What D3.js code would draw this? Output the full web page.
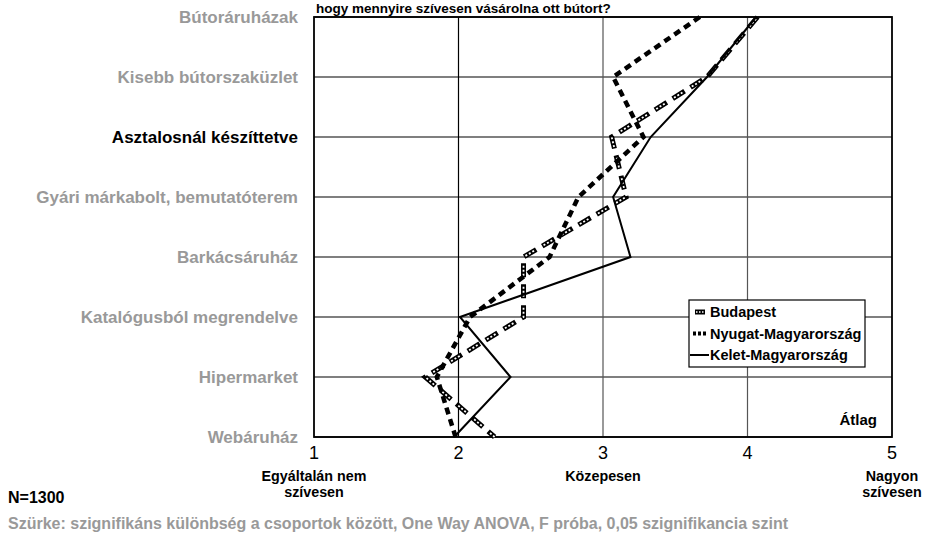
<!DOCTYPE html>
<html>
<head>
<meta charset="utf-8">
<script src="https://cdn.jsdelivr.net/npm/d3@7"></script>
<style>
  body { margin: 0; background: #fff; }
  svg { font-family: "Liberation Sans", Arial, sans-serif; }
</style>
</head>
<body>
<svg id="chart" width="930" height="538"></svg>
<script>
// categories, top to bottom
const categories = ['Bútoráruházak', 'Kisebb bútorszaküzlet', 'Asztalosnál készíttetve',
  'Gyári márkabolt, bemutatóterem', 'Barkácsáruház', 'Katalógusból megrendelve',
  'Hipermarket', 'Webáruház']
// gray = significant difference
const significant = [true, true, false, true, true, true, true, true]

const budapest = [4.07, 3.72, 3.06, 3.16, 2.45, 2.45, 1.77, 2.25]
const nyugat = [3.67, 3.07, 3.28, 2.83, 2.63, 2.08, 1.85, 1.98]
const kelet = [4.06, 3.72, 3.33, 3.07, 3.19, 2.01, 2.36, 1.97]

const xTicks = [1, 2, 3, 4, 5]
const xSubLabels = [
  { v: 1, lines: ['Egyáltalán nem', 'szívesen'] },
  { v: 3, lines: ['Közepesen'] },
  { v: 5, lines: ['Nagyon', 'szívesen'] }
]

let svg = d3.select('#chart')

let x = d3.scaleLinear([1, 5], [314, 892])
let y = d3.scalePoint(categories, [17, 437])

// grid
svg.append('g').selectAll('line').data(categories).join('line')
  .attr('x1', x(1)).attr('x2', x(5))
  .attr('y1', d => y(d)).attr('y2', d => y(d))
  .attr('stroke', '#000').attr('stroke-width', 1.2)
svg.append('g').selectAll('line').data([2, 3, 4]).join('line')
  .attr('x1', d => x(d)).attr('x2', d => x(d))
  .attr('y1', y(categories[0])).attr('y2', y(categories[7]))
  .attr('stroke', d => d == 2 ? '#000' : '#555').attr('stroke-width', 1.2)

// frame
svg.append('rect')
  .attr('x', x(1)).attr('y', y(categories[0]))
  .attr('width', x(5) - x(1)).attr('height', y(categories[7]) - y(categories[0]))
  .attr('fill', 'none').attr('stroke', '#000').attr('stroke-width', 1.8)

// y labels
svg.append('g').selectAll('text').data(categories).join('text')
  .attr('x', 298).attr('y', d => y(d)).attr('dy', '0.35em')
  .attr('text-anchor', 'end').attr('font-size', 17).attr('font-weight', 'bold')
  .attr('fill', (d, i) => significant[i] ? '#999' : '#000')
  .text(d => d)

// x ticks
svg.append('g').selectAll('text').data(xTicks).join('text')
  .attr('x', d => x(d)).attr('y', 459)
  .attr('text-anchor', 'middle').attr('font-size', 18)
  .text(d => d)

xSubLabels.forEach(s => {
  s.lines.forEach((l, i) => {
    svg.append('text')
      .attr('x', x(s.v)).attr('y', 481 + i * 16)
      .attr('text-anchor', 'middle').attr('font-size', 14.3).attr('font-weight', 'bold')
      .text(l)
  })
})

// lines
let line = d3.line().x(d => x(d[0])).y(d => y(d[1]))
let pts = arr => arr.map((v, i) => [v, categories[i]])

function drawBudapest(g, data) {
  g.append('path').datum(data).attr('d', line).attr('fill', 'none')
    .attr('stroke', '#000').attr('stroke-width', 5).attr('stroke-dasharray', '14,7')
  g.append('path').datum(data).attr('d', line).attr('fill', 'none')
    .attr('stroke', '#fff').attr('stroke-width', 1.8).attr('stroke-dasharray', '0,2.5,2,2,2,2,2,8.5')
}

drawBudapest(svg, pts(budapest))
svg.append('path').datum(pts(nyugat)).attr('d', line).attr('fill', 'none')
  .attr('stroke', '#000').attr('stroke-width', 4.5).attr('stroke-dasharray', '7,5')
svg.append('path').datum(pts(kelet)).attr('d', line).attr('fill', 'none')
  .attr('stroke', '#000').attr('stroke-width', 2)

// legend
let legend = svg.append('g')
legend.append('rect').attr('x', 689).attr('y', 300).attr('width', 176).attr('height', 67)
  .attr('fill', '#fff').attr('stroke', '#000').attr('stroke-width', 1.2)
let names = ['Budapest', 'Nyugat-Magyarország', 'Kelet-Magyarország']
names.forEach((n, i) => {
  let yy = 312 + i * 21.5
  if (i == 0) {
    legend.append('line').attr('x1', 695).attr('x2', 705).attr('y1', yy).attr('y2', yy)
      .attr('stroke', '#000').attr('stroke-width', 5)
    legend.append('line').attr('x1', 696).attr('x2', 704).attr('y1', yy).attr('y2', yy)
      .attr('stroke', '#fff').attr('stroke-width', 1.5).attr('stroke-dasharray', '1.5,1.5')
  } else if (i == 1) {
    legend.append('line').attr('x1', 693).attr('x2', 708).attr('y1', yy).attr('y2', yy)
      .attr('stroke', '#000').attr('stroke-width', 4).attr('stroke-dasharray', '3,2')
  } else {
    legend.append('line').attr('x1', 690).attr('x2', 709).attr('y1', yy).attr('y2', yy)
      .attr('stroke', '#000').attr('stroke-width', 2)
  }
  legend.append('text').attr('x', 710).attr('y', yy).attr('dy', '0.35em')
    .attr('font-size', 14.5).attr('font-weight', 'bold').text(n)
})

svg.append('text').attr('x', 877).attr('y', 425).attr('text-anchor', 'end')
  .attr('font-size', 15).attr('font-weight', 'bold').text('Átlag')

// titles and notes
svg.append('text').attr('x', 316).attr('y', 12.5)
  .attr('font-size', 13.5).attr('font-weight', 'bold')
  .text('hogy mennyire szívesen vásárolna ott bútort?')
svg.append('text').attr('x', 8).attr('y', 503)
  .attr('font-size', 16).attr('font-weight', 'bold').text('N=1300')
svg.append('text').attr('x', 8).attr('y', 529)
  .attr('font-size', 16).attr('font-weight', 'bold').attr('fill', '#999')
  .text('Szürke: szignifikáns különbség a csoportok között, One Way ANOVA, F próba, 0,05 szignifikancia szint')
</script>
</body>
</html>
